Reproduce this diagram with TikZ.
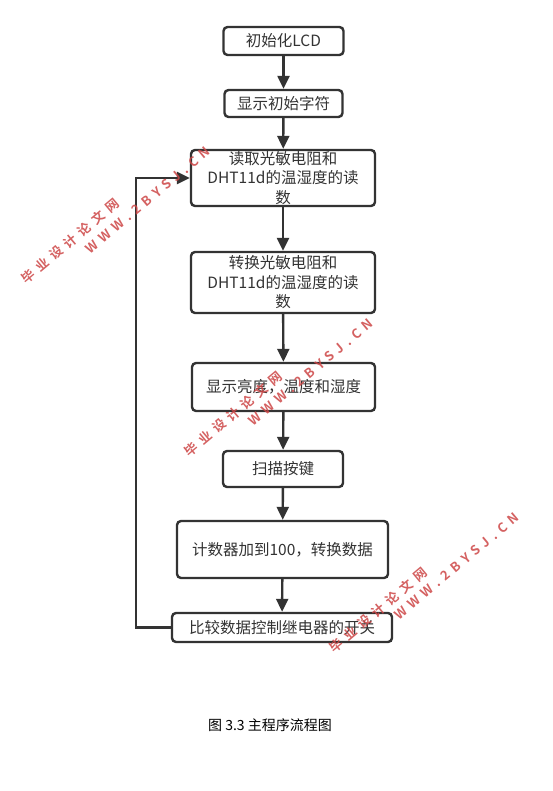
\documentclass[tikz,border=0pt]{standalone}
\usepackage{fontspec}
\setmainfont{Noto Sans CJK SC}
\newfontfamily\cjk{Noto Sans CJK SC}
\newfontfamily\wmfont[LetterSpace=40]{Noto Sans CJK SC Bold}
\usetikzlibrary{arrows.meta}
\definecolor{ink}{RGB}{51,51,51}
\definecolor{wmred}{RGB}{205,70,70}
\tikzset{
  box/.style={draw=ink, line width=2.4pt, rounded corners=4pt, fill=white, text=ink,
    align=center, inner sep=0pt, font=\cjk\fontsize{15.5}{19.5}\selectfont},
  arr/.style={draw=ink, line width=2.4pt, -{Triangle[length=13pt,width=12pt]}},
  wm/.style={text=wmred, rotate=40, font=\wmfont\fontsize{13}{13}\selectfont, inner sep=0pt, opacity=0.85}
}
\begin{document}
\begin{tikzpicture}[x=1pt,y=-1pt]
\useasboundingbox (0,0) rectangle (552,791);
\node[box, minimum width=120pt, minimum height=28pt] (b1) at (283.5,41) {初始化LCD};
\node[box, minimum width=118pt, minimum height=27pt] (b2) at (283.5,103.5) {显示初始字符};
\node[box, minimum width=184pt, minimum height=56pt] (b3) at (283,178) {读取光敏电阻和\\DHT11d的温湿度的读\\数};
\node[box, minimum width=184pt, minimum height=61pt] (b4) at (283,282.5) {转换光敏电阻和\\DHT11d的温湿度的读\\数};
\node[box, minimum width=183pt, minimum height=48pt] (b5) at (283.5,387) {显示亮度，温度和湿度};
\node[box, minimum width=120pt, minimum height=36pt] (b6) at (283,469) {扫描按键};
\node[box, minimum width=211pt, minimum height=57pt] (b7) at (282.5,549.5) {计数器加到100，转换数据};
\node[box, minimum width=220pt, minimum height=29pt] (b8) at (282,627.5) {比较数据控制继电器的开关};
\draw[arr] (b1) -- (b2);
\draw[arr] (b2) -- (b3);
\draw[arr] (b3) -- (b4);
\draw[arr] (b4) -- (b5);
\draw[arr] (b5) -- (b6);
\draw[arr] (b6) -- (b7);
\draw[arr] (b7) -- (b8);
\coordinate (c1) at (136,178);
\draw[arr] (b8.west) -| (c1) -- (b3.west);
\node[text=black, font=\cjk\fontsize{14}{16}\selectfont] (cap) at (270,725) {图 3.3 主程序流程图};
% watermarks
\node[wm] (w1a) at (70,241) {毕业设计论文网};
\node[wm] (w1b) at (148,200) {WWW.2BYSJ.CN};
\node[wm] (w2a) at (233,414) {毕业设计论文网};
\node[wm] (w2b) at (311,372) {WWW.2BYSJ.CN};
\node[wm] (w3a) at (378,610) {毕业设计论文网};
\node[wm] (w3b) at (457,566) {WWW.2BYSJ.CN};
\end{tikzpicture}
\end{document}
